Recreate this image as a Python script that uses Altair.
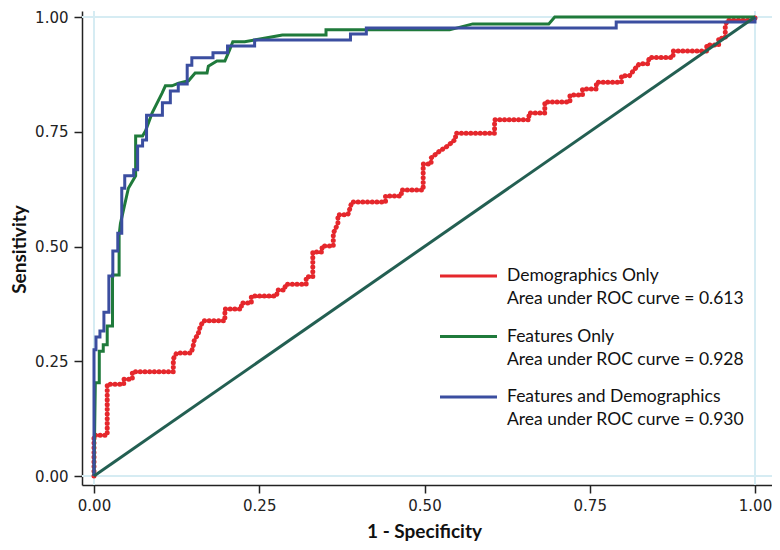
import altair as alt
import pandas as pd

# ---------------- data ----------------
red_x = [0, 0, 0.02, 0.02, 0.045, 0.045, 0.058, 0.058, 0.12, 0.12, 0.125, 0.147, 0.15, 0.152,
         0.157, 0.16, 0.165, 0.198, 0.198, 0.223, 0.223, 0.238, 0.238, 0.276, 0.278, 0.288,
         0.29, 0.321, 0.321, 0.331, 0.331, 0.345, 0.345, 0.362, 0.362, 0.369, 0.369, 0.384,
         0.387, 0.39, 0.441, 0.441, 0.465, 0.465, 0.498, 0.498, 0.51, 0.51, 0.523, 0.535,
         0.547, 0.547, 0.606, 0.606, 0.658, 0.658, 0.682, 0.682, 0.72, 0.72, 0.739, 0.739,
         0.76, 0.76, 0.798, 0.798, 0.81, 0.816, 0.825, 0.838, 0.84, 0.876, 0.876, 0.927,
         0.927, 0.945, 0.945, 0.955, 0.955, 0.958, 1.0, 1.0]
red_y = [0, 0.089, 0.089, 0.20, 0.20, 0.211, 0.211, 0.227, 0.227, 0.255, 0.268, 0.268, 0.283,
         0.298, 0.307, 0.322, 0.338, 0.338, 0.364, 0.364, 0.377, 0.377, 0.392, 0.392, 0.405,
         0.405, 0.418, 0.418, 0.434, 0.434, 0.488, 0.488, 0.501, 0.501, 0.529, 0.55, 0.569,
         0.569, 0.582, 0.597, 0.597, 0.610, 0.610, 0.623, 0.623, 0.680, 0.680, 0.693, 0.708,
         0.719, 0.734, 0.747, 0.747, 0.776, 0.776, 0.791, 0.791, 0.815, 0.815, 0.830, 0.830,
         0.843, 0.843, 0.858, 0.858, 0.872, 0.872, 0.883, 0.898, 0.898, 0.912, 0.912, 0.926,
         0.926, 0.939, 0.939, 0.954, 0.954, 0.98, 0.993, 0.993, 1.0]

green_x = [0, 0.002, 0.008, 0.008, 0.014, 0.014, 0.02, 0.02, 0.028, 0.028, 0.038, 0.038, 0.04,
           0.052, 0.063, 0.063, 0.0735, 0.078, 0.088, 0.103, 0.108, 0.118, 0.128, 0.143, 0.153,
           0.171, 0.173, 0.186, 0.198, 0.205, 0.21, 0.228, 0.285, 0.351, 0.351, 0.538, 0.573,
           0.688, 0.697, 1.0]
green_y = [0, 0.203, 0.203, 0.272, 0.272, 0.286, 0.286, 0.327, 0.327, 0.438, 0.438, 0.525, 0.55,
           0.627, 0.654, 0.741, 0.741, 0.752, 0.791, 0.834, 0.850, 0.850, 0.856, 0.861, 0.878,
           0.878, 0.893, 0.904, 0.904, 0.928, 0.946, 0.946, 0.961, 0.961, 0.972, 0.972, 0.985,
           0.985, 1.0, 1.0]

blue_x = [0, 0, 0.003, 0.003, 0.009, 0.009, 0.015, 0.015, 0.0225, 0.0225, 0.0285, 0.0285, 0.036,
          0.036, 0.042, 0.042, 0.0465, 0.0465, 0.060, 0.060, 0.066, 0.066, 0.0735, 0.0735, 0.0795,
          0.0795, 0.1035, 0.1035, 0.1155, 0.1155, 0.1275, 0.1275, 0.141, 0.141, 0.148, 0.148,
          0.18, 0.18, 0.202, 0.202, 0.243, 0.243, 0.388, 0.388, 0.412, 0.412, 0.79, 0.79, 1.0, 1.0]
blue_y = [0, 0.275, 0.275, 0.303, 0.303, 0.316, 0.316, 0.357, 0.357, 0.436, 0.436, 0.490, 0.490,
          0.529, 0.529, 0.627, 0.627, 0.654, 0.654, 0.667, 0.667, 0.719, 0.719, 0.732, 0.732,
          0.786, 0.786, 0.813, 0.813, 0.839, 0.839, 0.854, 0.854, 0.895, 0.895, 0.911, 0.911,
          0.922, 0.922, 0.937, 0.937, 0.950, 0.950, 0.963, 0.963, 0.976, 0.976, 0.989, 0.989, 1.0]

diag_x = [0, 1]
diag_y = [0, 1]

series_names = ["Demographics Only", "Features Only", "Features and Demographics"]
auc_labels = ["Area under ROC curve = 0.613", "Area under ROC curve = 0.928",
              "Area under ROC curve = 0.930"]
tick_vals = [0, 0.25, 0.5, 0.75, 1.0]
grid_vals = [0, 1]

# ---------------- styles ----------------
RED, GREEN, BLUE, DIAG = "#e5272c", "#1f7a3b", "#3b4ea0", "#235f52"
GRID = "#d6ecf3"
series_colors = [RED, GREEN, BLUE]
PAD_L, PAD_T, PAD_B = 74, 3, 57
W, H = 690, 474

xs = alt.Scale(domain=[-0.01815, 1.0257], nice=False, zero=False)
ys = alt.Scale(domain=[-0.0196, 1.0131], nice=False, zero=False)

common = dict(format=".2f", grid=False, domainColor="#222", domainWidth=1.5,
              tickColor="#222", tickWidth=1.5, tickSize=8, labelFont="DejaVu Sans",
              labelFontSize=15, labelColor="#222", labelFlush=False, titleFont="Lato",
              titleFontSize=19, titleFontWeight="bold", titleColor="#111",
              titleBaseline="middle")
xaxis = alt.Axis(values=tick_vals, title="1 - Specificity", labelPadding=5,
                 titleX=342, titleY=46, **common)
yaxis = alt.Axis(values=tick_vals, title="Sensitivity", labelPadding=6,
                 titleX=-63, titleY=238, **common)


def xy_df(xv, yv):
    return pd.DataFrame({"x": xv, "y": yv, "i": list(range(len(xv)))})


def enc(ch):
    return ch.encode(
        x=alt.X("x:Q", scale=xs, axis=xaxis),
        y=alt.Y("y:Q", scale=ys, axis=yaxis),
        order="i:Q",
    )


vgrid = alt.Chart(pd.DataFrame({"x": grid_vals})).mark_rule(color=GRID, strokeWidth=2).encode(
    x=alt.X("x:Q", scale=xs, axis=xaxis))
hgrid = alt.Chart(pd.DataFrame({"y": grid_vals})).mark_rule(color=GRID, strokeWidth=2).encode(
    y=alt.Y("y:Q", scale=ys, axis=yaxis))

red = enc(alt.Chart(xy_df(red_x, red_y)).mark_line(
    color=RED, strokeWidth=5, strokeDash=[0.1, 4.6], strokeCap="round"))
green = enc(alt.Chart(xy_df(green_x, green_y)).mark_line(color=GREEN, strokeWidth=3))
blue = enc(alt.Chart(xy_df(blue_x, blue_y)).mark_line(color=BLUE, strokeWidth=3))
diag = enc(alt.Chart(xy_df(diag_x, diag_y)).mark_line(color=DIAG, strokeWidth=3))

layers = [vgrid, hgrid, red, green, blue, diag]

# ---------------- legend (inside the plot) ----------------
LX1, LX2, TX = 358, 415, 425
LY0, LSTEP, LINE2 = 265, 60.5, 23
for k, (name, auc, col) in enumerate(zip(series_names, auc_labels, series_colors)):
    ly = LY0 + k * LSTEP
    ldf = pd.DataFrame({"name": [name], "auc": [auc]})
    layers.append(alt.Chart(ldf).mark_rule(color=col, strokeWidth=3).encode(
        x=alt.value(LX1), x2=alt.value(LX2), y=alt.value(ly)))
    layers.append(alt.Chart(ldf).mark_text(
        align="left", baseline="middle", font="Lato", fontSize=17.5, color="#111").encode(
        x=alt.value(TX), y=alt.value(ly), text="name:N"))
    layers.append(alt.Chart(ldf).mark_text(
        align="left", baseline="middle", font="Lato", fontSize=17.5, color="#111").encode(
        x=alt.value(TX), y=alt.value(ly + LINE2), text="auc:N"))

chart = alt.layer(*layers).properties(
    width=W, height=H,
    autosize=alt.AutoSizeParams(type="none"),
    padding={"left": PAD_L, "top": PAD_T, "right": 0, "bottom": PAD_B},
    background="white",
).configure_view(stroke=None)

chart.save("out.html", embed_options={"renderer": "svg", "actions": False})
